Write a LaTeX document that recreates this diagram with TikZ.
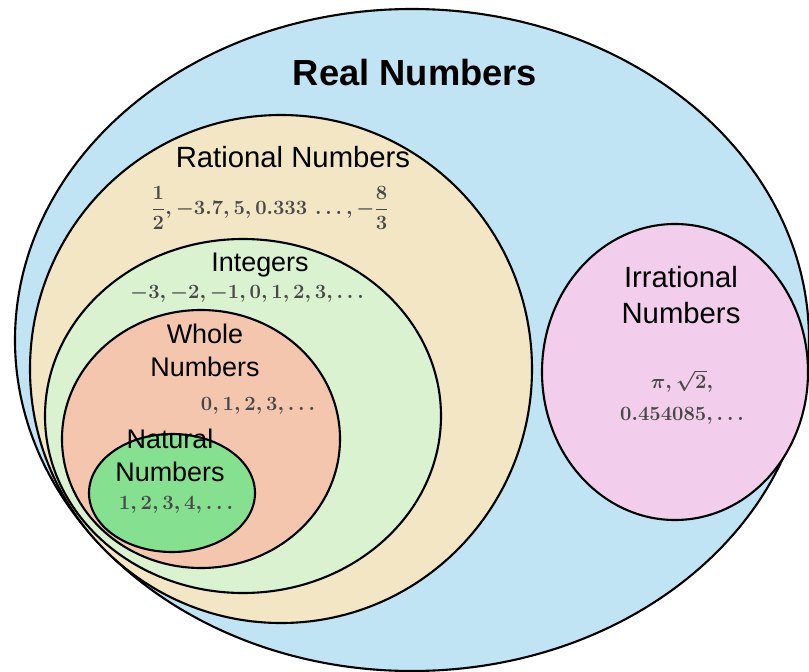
\documentclass[tikz,border=0pt]{standalone}
\usepackage{fontspec}
\newfontfamily\labelfont{Liberation Sans}
\usepackage{amsmath}
\usepackage{tikz}
\usepackage{xcolor}

\definecolor{realblue}{RGB}{192,228,244}
\definecolor{ratbeige}{RGB}{242,230,196}
\definecolor{intgreen}{RGB}{218,242,208}
\definecolor{wholepeach}{RGB}{245,198,174}
\definecolor{natgreen}{RGB}{133,224,143}
\definecolor{irrpink}{RGB}{242,205,236}
\definecolor{numgray}{RGB}{72,72,72}

\begin{document}
\begin{tikzpicture}[x=0.03cm, y=-0.03cm, line width=1.8pt,
  setname/.style={font=\labelfont\fontsize{23}{28}\selectfont, align=center, inner sep=1pt},
  members/.style={text=numgray, font=\boldmath\fontsize{18}{22}\selectfont, align=center, inner sep=1pt}]
  \useasboundingbox (0,0) rectangle (809,672);
  % the sets, outside in
  \draw[fill=realblue] (412,340) ellipse [x radius=397, y radius=331];
  \draw[fill=ratbeige] (281,369) ellipse [x radius=251, y radius=254];
  \draw[fill=intgreen] (243,416) ellipse [x radius=198, y radius=177];
  \draw[fill=wholepeach] (201,439) ellipse [x radius=139, y radius=129];
  \draw[fill=natgreen] (172,493) ellipse [x radius=83, y radius=59];
  \draw[fill=irrpink] (675,372) ellipse [x radius=133, y radius=148];
  % labels
  \node[setname, font=\labelfont\bfseries\fontsize{31}{36}\selectfont] (real) at (415,73) {Real Numbers};
  \node[setname, font=\labelfont\fontsize{25}{30}\selectfont] (rational) at (293,157) {Rational Numbers};
  \node[members] (ratvals) at (270,208) {$\dfrac{1}{2}, -3.7, 5, 0.333\,\ldots, -\dfrac{8}{3}$};
  \node[setname] (integers) at (260,265) {Integers};
  \node[members] (intvals) at (247,294) {$-3, -2, -1, 0, 1, 2, 3, \ldots$};
  \node[setname] (whole) at (205,350) {Whole\\Numbers};
  \node[members] (wholevals) at (258,406) {$0, 1, 2, 3, \ldots$};
  \node[setname] (natural) at (170,455) {Natural\\Numbers};
  \node[members] (natvals) at (176,505) {$1, 2, 3, 4, \ldots$};
  \node[setname, font=\labelfont\fontsize{25}{31}\selectfont] (irrational) at (681,295) {Irrational\\Numbers};
  \node[members, font=\boldmath\fontsize{18}{27}\selectfont] (irrvals) at (682,397) {$\pi, \sqrt{2},$\\$0.454085, \ldots$};
\end{tikzpicture}
\end{document}
